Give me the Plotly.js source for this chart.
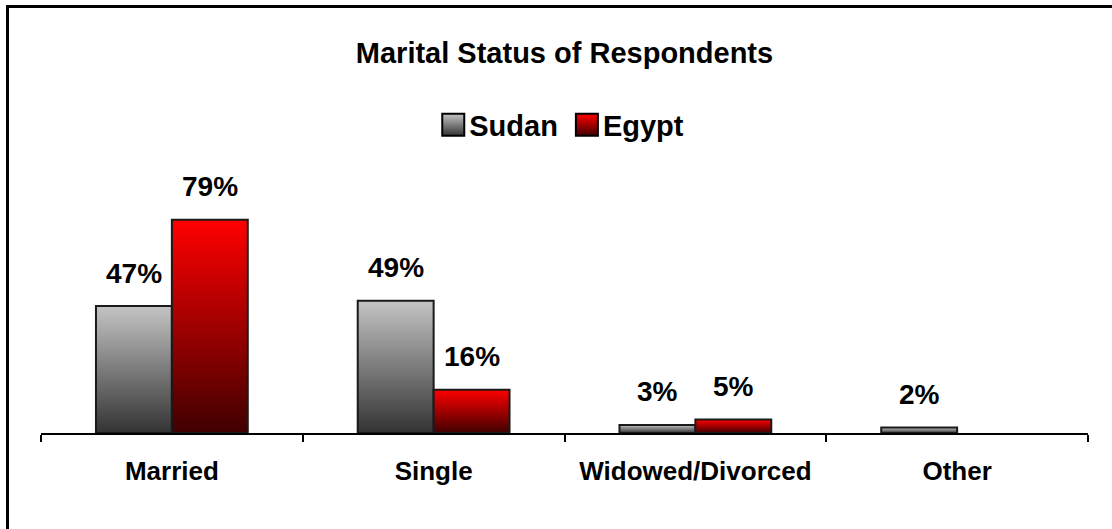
<!DOCTYPE html>
<html>
<head>
<meta charset="utf-8">
<script src="https://cdn.plot.ly/plotly-3.0.1.min.js"></script>
<style>
  html, body { margin: 0; padding: 0; background: #fff; overflow: hidden; }
  #chart { width: 1112px; height: 529px; }
  #frame {
    position: absolute; left: 6px; top: 5px; width: 1200px; height: 700px;
    border: 3px solid #000; box-sizing: border-box; pointer-events: none;
  }
</style>
</head>
<body>
<div id="chart"></div>
<div id="frame"></div>
<script>
// Marital status shares (%) by country
const categories = ['Married', 'Single', 'Widowed/Divorced', 'Other'];
const sudan = [47, 49, 3, 2];
const egypt = [79, 16, 5, null];
const seriesNames = ['Sudan', 'Egypt'];
const chartTitle = 'Marital Status of Respondents';

const FONT = 'Liberation Sans, Arial, Helvetica, sans-serif';
const W = 1112, H = 529;
const margin = { l: 41, r: 24, t: 163, b: 96 };
const bargap = 0.42;

// pixel offset of each bar's centre from its category centre
const catWidth = (W - margin.l - margin.r) / categories.length;
const barWidth = catWidth * (1 - bargap) / 2;
const offsets = [-barWidth / 2, barWidth / 2];

const series = [sudan, egypt];
const traces = series.map((vals, k) => ({
  type: 'bar',
  name: seriesNames[k],
  x: categories,
  y: vals,
  marker: { color: k === 0 ? '#8c8c8c' : '#b00000', line: { color: '#1a1a1a', width: 2 } },
  hoverinfo: 'skip'
}));

// value labels above each bar
const annotations = [];
series.forEach((vals, k) => {
  vals.forEach((v, i) => {
    if (v === null || v === undefined) return;
    annotations.push({
      x: categories[i], y: v, xref: 'x', yref: 'y',
      text: v + '%', showarrow: false,
      xshift: offsets[k], yshift: 33,
      xanchor: 'center', yanchor: 'middle',
      font: { family: FONT, size: 28, color: '#000', weight: 'bold' }
    });
  });
});

const layout = {
  width: W, height: H,
  margin: margin,
  paper_bgcolor: '#fff', plot_bgcolor: '#fff',
  barmode: 'group', bargap: bargap, bargroupgap: 0,
  showlegend: true,
  title: {
    text: chartTitle,
    x: 0.5, xref: 'paper', xanchor: 'center',
    y: (H - 53) / H, yref: 'container', yanchor: 'middle',
    font: { family: FONT, size: 29, color: '#000', weight: 'bold' }
  },
  legend: {
    orientation: 'h',
    x: 0.495, xanchor: 'center',
    y: 1 + (163 - 125) / 270, yanchor: 'middle',
    font: { family: FONT, size: 29, color: '#000', weight: 'bold' },
    bgcolor: 'rgba(0,0,0,0)', traceorder: 'normal'
  },
  xaxis: {
    type: 'category',
    showline: true, linecolor: '#000', linewidth: 2,
    ticks: 'outside', tickson: 'boundaries', ticklen: 7, tickwidth: 2, tickcolor: '#000',
    ticklabelstandoff: 14,
    showgrid: false, zeroline: false,
    tickfont: { family: FONT, size: 26, color: '#000', weight: 'bold' }
  },
  yaxis: { range: [0, 100], visible: false, showgrid: false, zeroline: false, fixedrange: true },
  annotations: annotations
};

const gd = document.getElementById('chart');
Plotly.newPlot(gd, traces, layout, { staticPlot: true, displayModeBar: false }).then(() => {
  // vertical shading for the bars and legend swatches
  const svgNS = 'http://www.w3.org/2000/svg';
  const svg = gd.querySelector('svg.main-svg');
  const defs = document.createElementNS(svgNS, 'defs');
  const shades = [
    { id: 'shadeSudan', top: '#c4c4c4', bottom: '#333333' },
    { id: 'shadeEgypt', top: '#ff0000', bottom: '#400000' }
  ];
  shades.forEach(s => {
    const g = document.createElementNS(svgNS, 'linearGradient');
    g.setAttribute('id', s.id);
    g.setAttribute('x1', '0'); g.setAttribute('y1', '0');
    g.setAttribute('x2', '0'); g.setAttribute('y2', '1');
    [[0, s.top], [1, s.bottom]].forEach(([o, c]) => {
      const st = document.createElementNS(svgNS, 'stop');
      st.setAttribute('offset', o);
      st.setAttribute('stop-color', c);
      g.appendChild(st);
    });
    defs.appendChild(g);
  });
  svg.insertBefore(defs, svg.firstChild);

  gd.querySelectorAll('.barlayer .trace').forEach((tr, k) => {
    tr.querySelectorAll('.point path').forEach(p => {
      p.style.fill = 'url(#' + shades[k].id + ')';
    });
  });

  gd.querySelectorAll('.legend .traces').forEach((tr, k) => {
    tr.querySelectorAll('.legendpoints path').forEach(p => {
      p.setAttribute('d', 'M11,11H-11V-11H11Z');
      p.setAttribute('transform', 'translate(24,0)');
      p.style.fill = 'url(#' + shades[k].id + ')';
      p.style.stroke = '#000';
      p.style.strokeWidth = '2px';
    });
  });
});
</script>
</body>
</html>
